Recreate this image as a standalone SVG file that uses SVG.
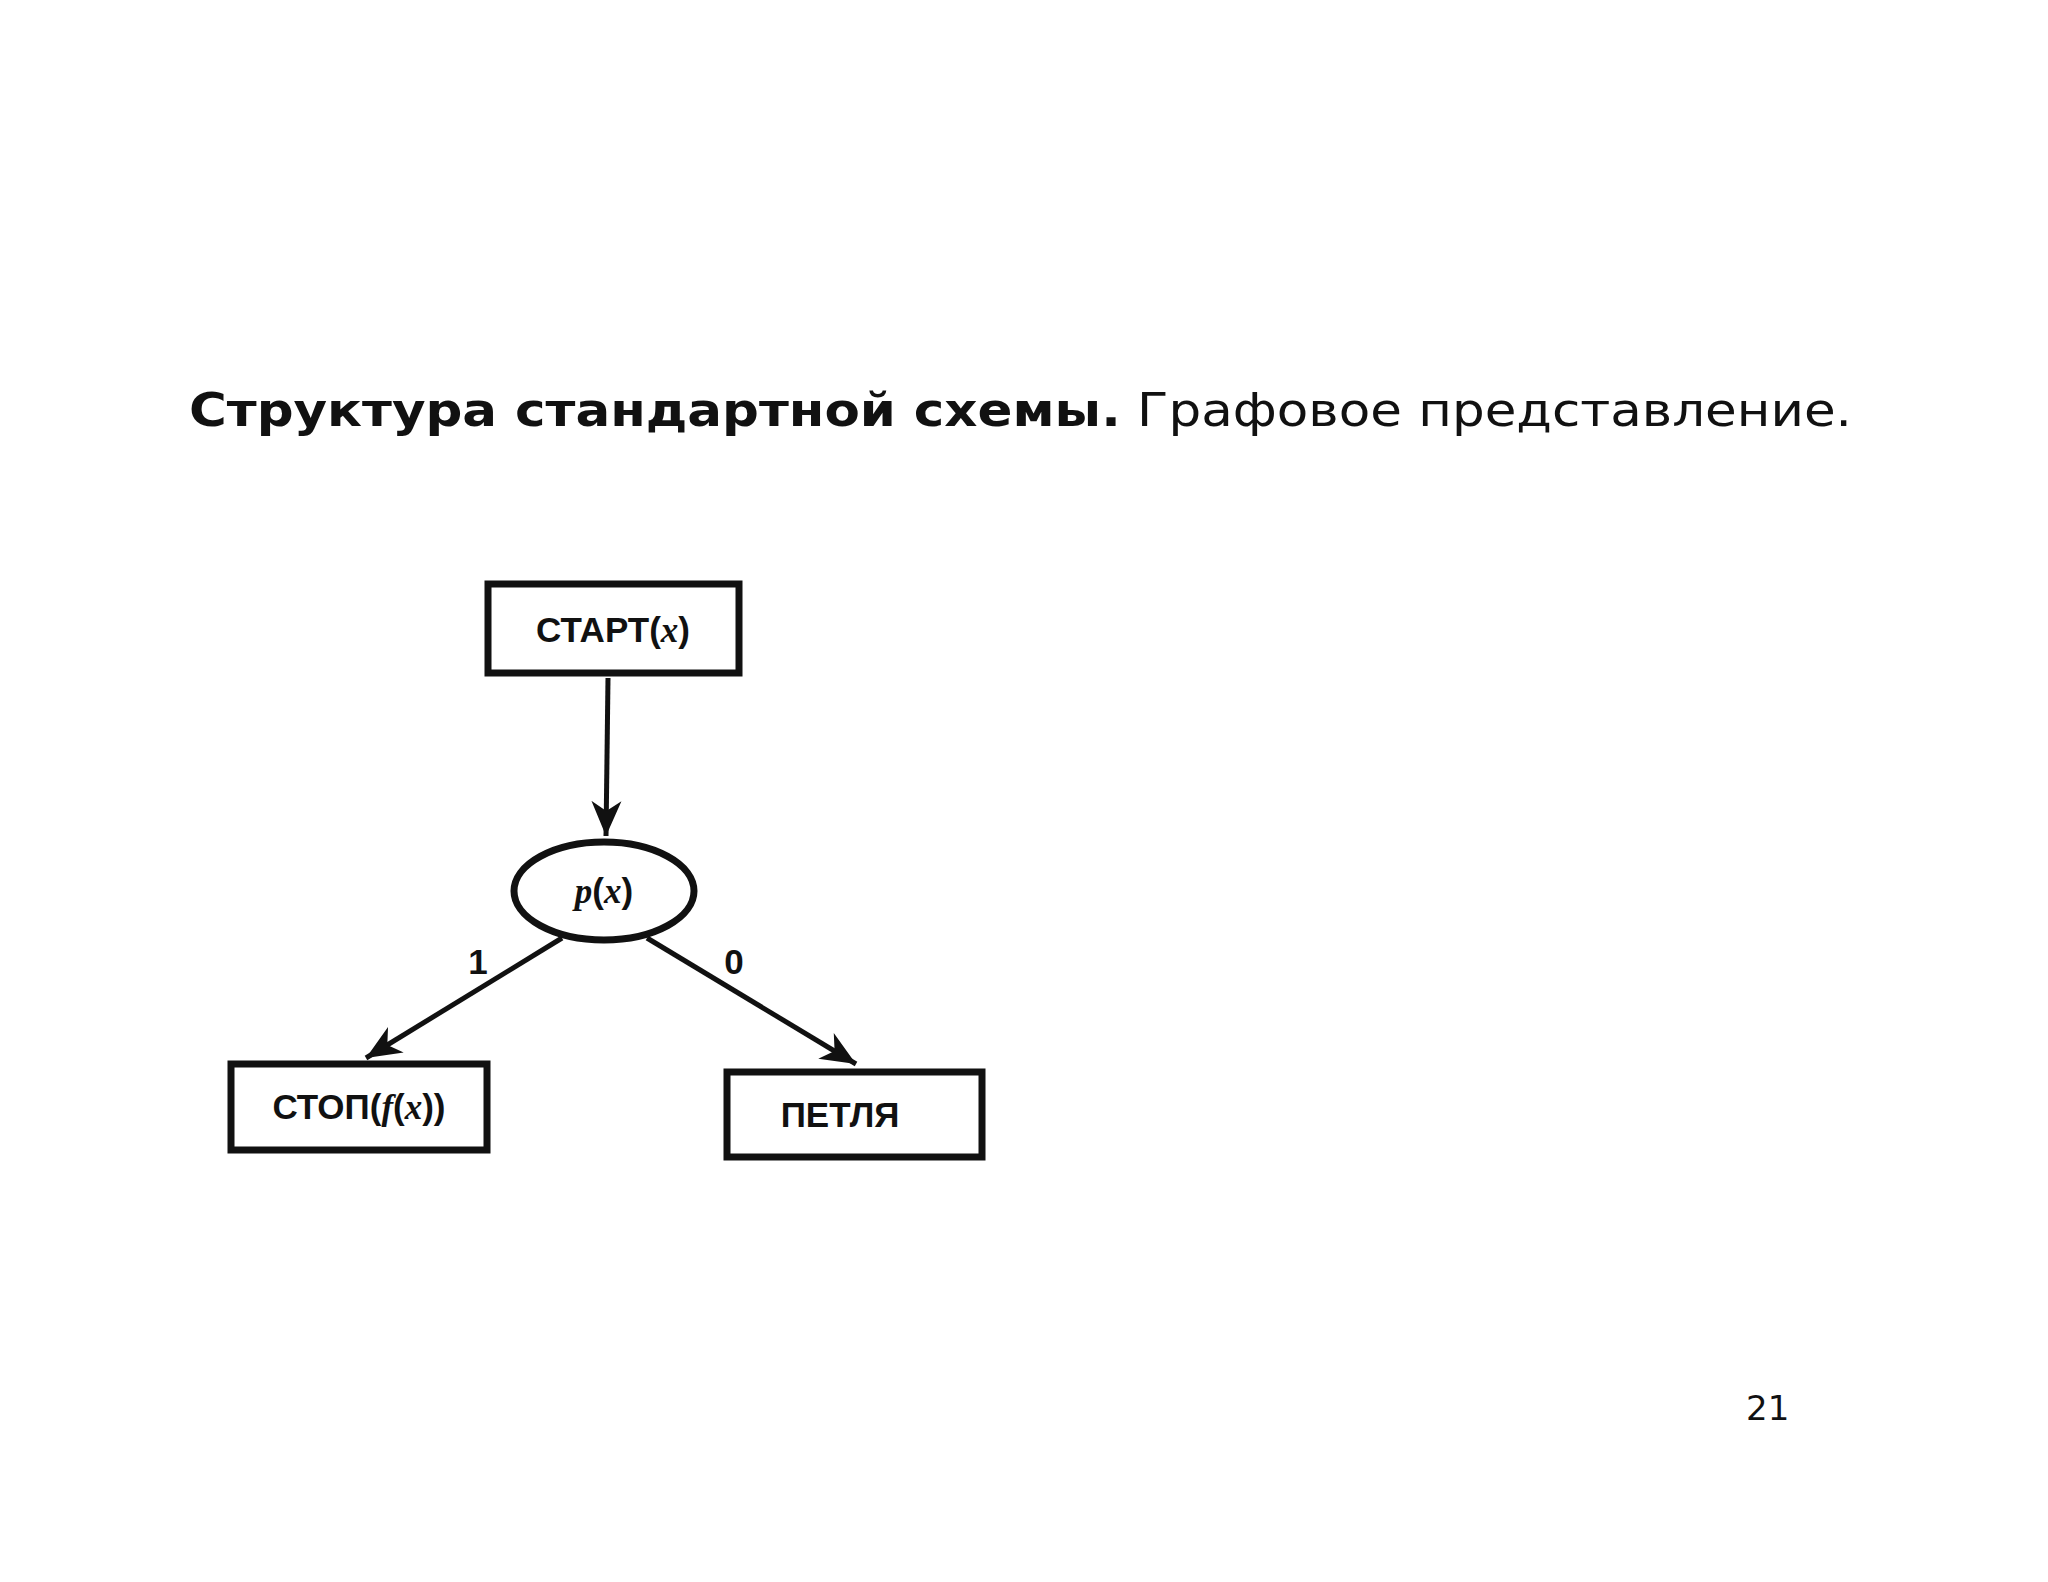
<svg xmlns="http://www.w3.org/2000/svg" width="2048" height="1582" viewBox="0 0 2048 1582">
<style>
.box{fill:#fff;stroke:#111;stroke-width:7}
.lbl{font-family:"Liberation Sans",sans-serif;font-weight:bold;font-size:35px;fill:#111}
.it{font-family:"Liberation Serif",serif;font-style:italic;font-weight:bold}
.edge{stroke:#111;stroke-width:5;fill:none;marker-end:url(#ah)}
.title{font-family:"DejaVu Sans",sans-serif;font-size:46px;fill:#111}
.pg{font-family:"DejaVu Sans",sans-serif;font-size:34px;fill:#111}
</style>
<defs><marker id="ah" markerWidth="8" markerHeight="8" refX="7" refY="4" orient="auto" markerUnits="strokeWidth"><path d="M0,1 L7,4 L0,7 L2,4 Z" fill="#111"/></marker></defs>
<rect width="2048" height="1582" fill="#fff"/>
<text class="title" x="189" y="426" textLength="1663" lengthAdjust="spacingAndGlyphs"><tspan font-weight="bold">Структура стандартной схемы.</tspan> Графовое представление.</text>
<g id="edges">
<line class="edge" x1="608" y1="678" x2="606" y2="836"/>
<line class="edge" x1="562" y1="938" x2="366" y2="1058"/>
<line class="edge" x1="647" y1="938" x2="856" y2="1064"/>
<text class="lbl" x="478" y="974" text-anchor="middle">1</text>
<text class="lbl" x="734" y="974" text-anchor="middle">0</text>
</g>
<g id="start"><rect class="box" x="488" y="584" width="251" height="89"/><text class="lbl" x="613" y="642" text-anchor="middle">СТАРТ(<tspan class="it">x</tspan>)</text></g>
<g id="cond"><ellipse class="box" cx="604" cy="891" rx="90" ry="49"/><text class="lbl" x="604" y="903" text-anchor="middle"><tspan class="it">p</tspan>(<tspan class="it">x</tspan>)</text></g>
<g id="stop"><rect class="box" x="231" y="1064" width="256" height="86"/><text class="lbl" x="359" y="1119" text-anchor="middle">СТОП(<tspan class="it">f</tspan>(<tspan class="it">x</tspan>))</text></g>
<g id="loop"><rect class="box" x="727" y="1072" width="255" height="85"/><text class="lbl" x="840" y="1127" text-anchor="middle">ПЕТЛЯ</text></g>
<text class="pg" x="1746" y="1420">21</text>
</svg>
